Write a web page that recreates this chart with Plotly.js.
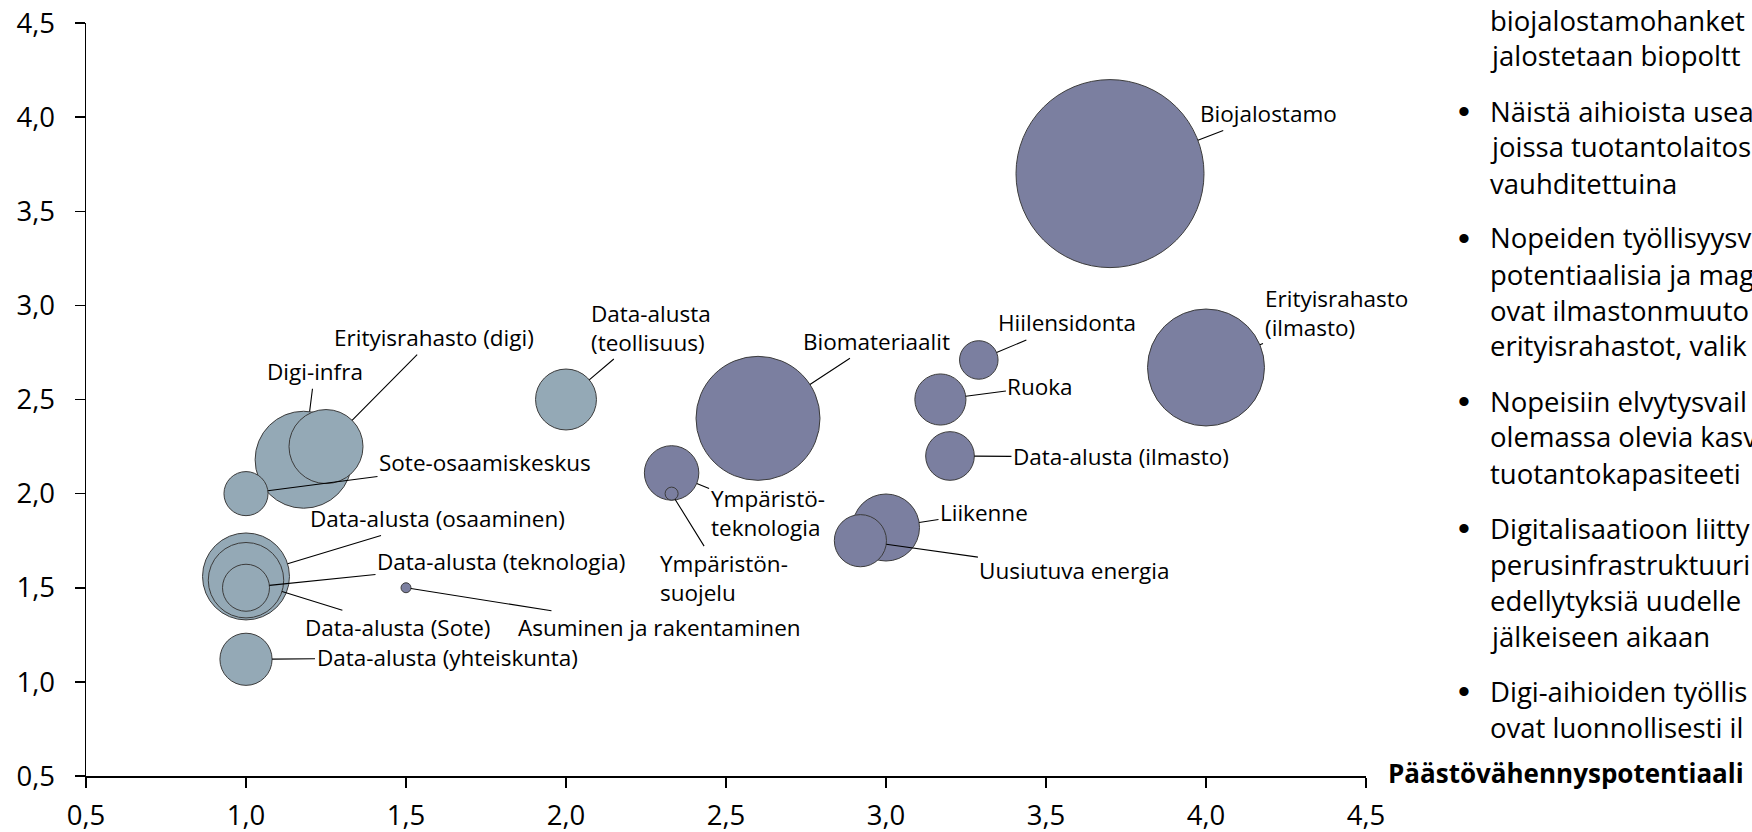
<!DOCTYPE html>
<html>
<head>
<meta charset="utf-8">
<script src="https://cdn.plot.ly/plotly-3.0.1.min.js"></script>
<style>
html,body{margin:0;padding:0;background:#fff;}
#chart{width:1752px;height:832px;}
</style>
</head>
<body>
<div id="chart"></div>
<script>
// ---------- DATA ----------
// Light (digi) bubbles
const digiNames = ['Digi-infra', 'Data-alusta (osaaminen)', 'Data-alusta (Sote)', 'Erityisrahasto (digi)',
  'Data-alusta (teollisuus)', 'Data-alusta (yhteiskunta)', 'Data-alusta (teknologia)', 'Sote-osaamiskeskus'];
const digiX = [1.18, 1.00, 1.00, 1.25, 2.00, 1.00, 1.00, 1.00];
const digiY = [2.18, 1.56, 1.54, 2.25, 2.50, 1.12, 1.50, 2.00];
const digiSize = [26.6, 21.4, 16.1, 15.5, 10.5, 7.7, 6.25, 5.5];

// Dark (ilmasto) bubbles
const climNames = ['Biojalostamo', 'Biomateriaalit', 'Erityisrahasto (ilmasto)', 'Liikenne', 'Ympäristöteknologia',
  'Uusiutuva energia', 'Ruoka', 'Data-alusta (ilmasto)', 'Hiilensidonta', 'Ympäristönsuojelu', 'Asuminen ja rakentaminen'];
const climX = [3.70, 2.60, 4.00, 3.00, 2.33, 2.92, 3.17, 3.20, 3.29, 2.33, 1.50];
const climY = [3.70, 2.40, 2.67, 1.82, 2.11, 1.75, 2.50, 2.20, 2.71, 2.00, 1.50];
const climSize = [100, 43.5, 38.7, 12.7, 8.4, 7.7, 7.4, 6.7, 4.2, 0.48, 0.28];

const tickVals = [0.5, 1.0, 1.5, 2.0, 2.5, 3.0, 3.5, 4.0, 4.5];
const xAxisTitle = 'Päästövähennyspotentiaali';

// label texts shown on chart (line breaks as in the original)
const labelText = {
  'Erityisrahasto (ilmasto)': 'Erityisrahasto<br>(ilmasto)',
  'Data-alusta (teollisuus)': 'Data-alusta<br>(teollisuus)',
  'Ympäristöteknologia': 'Ympäristö-<br>teknologia',
  'Ympäristönsuojelu': 'Ympäristön-<br>suojelu'
};

// right-hand commentary (cut at the slide edge)
const notes = [
  {bullet: false, lines: ['biojalostamohanket', 'jalostetaan biopoltt']},
  {bullet: true, lines: ['Näistä aihioista usea', 'joissa tuotantolaitos', 'vauhditettuina']},
  {bullet: true, lines: ['Nopeiden työllisyysv', 'potentiaalisia ja mag', 'ovat ilmastonmuuto', 'erityisrahastot, valik']},
  {bullet: true, lines: ['Nopeisiin elvytysvail', 'olemassa olevia kasv', 'tuotantokapasiteeti']},
  {bullet: true, lines: ['Digitalisaatioon liitty', 'perusinfrastruktuuri', 'edellytyksiä uudelle', 'jälkeiseen aikaan']},
  {bullet: true, lines: ['Digi-aihioiden työllis', 'ovat luonnollisesti il']}
];

// ---------- LAYOUT (pixels) ----------
const W = 1752, H = 832;
const L = 86, Rpx = 1366, T = 23, Bpx = 776;
const maxD = 188;
const FONT = '"Open Sans", "Noto Sans", sans-serif';
const LIGHT = '#94a9b6', DARK = '#7b7fa0', EDGE = '#3c3c3c';

// label text offsets (px) relative to bubble centre
const labelOffset = {
  'Biojalostamo': [158, -60],
  'Biomateriaalit': [118, -77],
  'Hiilensidonta': [88, -37],
  'Ruoka': [100, -13],
  'Erityisrahasto (ilmasto)': [130, -55],
  'Data-alusta (ilmasto)': [171, 1],
  'Liikenne': [98, -15],
  'Uusiutuva energia': [214, 30],
  'Ympäristöteknologia': [96, 40],
  'Ympäristönsuojelu': [52, 84],
  'Asuminen ja rakentaminen': [253, 40],
  'Data-alusta (teollisuus)': [85, -72],
  'Erityisrahasto (digi)': [108, -109],
  'Digi-infra': [11, -88],
  'Sote-osaamiskeskus': [239, -31],
  'Data-alusta (osaaminen)': [191, -58],
  'Data-alusta (teknologia)': [255, -26],
  'Data-alusta (Sote)': [151, 47],
  'Data-alusta (yhteiskunta)': [201, -1.5]
};

const allSizes = digiSize.concat(climSize);
const maxSize = Math.max.apply(null, allSizes);
const sizeref = 2 * maxSize / (maxD * maxD);
function radius(v) { return 0.5 * maxD * Math.sqrt(v / maxSize); }

const plotW = Rpx - L, plotH = Bpx - T;
function px2paperX(px) { return (px - L) / plotW; }
function px2paperY(py) { return (Bpx - py) / plotH; }

function bubbleTrace(names, xs, ys, sizes, color) {
  return {
    type: 'scatter', mode: 'markers', x: xs, y: ys, text: names,
    hoverinfo: 'text', showlegend: false,
    marker: {size: sizes, sizemode: 'area', sizeref: sizeref, color: color,
      opacity: 1, line: {color: EDGE, width: 1}}
  };
}

const annotations = [];
function addLabels(names, xs, ys, sizes) {
  names.forEach(function (n, i) {
    const off = labelOffset[n];
    annotations.push({
      x: xs[i], y: ys[i], xref: 'x', yref: 'y',
      text: labelText[n] || n, showarrow: true, arrowhead: 0, arrowwidth: 1.1, arrowcolor: '#000',
      ax: off[0], ay: off[1], standoff: radius(sizes[i]), align: 'left',
      font: {family: FONT, size: 22.5, color: '#000'}
    });
  });
}
addLabels(digiNames, digiX, digiY, digiSize);
addLabels(climNames, climX, climY, climSize);

// commentary lines (centre y of each line, px)
const firstCentre = 20, pitch = 36.0, paraGap = 19, noteSize = 27.5;
let cy = firstCentre;
notes.forEach(function (p, pi) {
  if (pi > 0) cy += paraGap;
  p.lines.forEach(function (ln, li) {
    if (li === 0 && p.bullet) {
      annotations.push({xref: 'paper', yref: 'paper', x: px2paperX(1464), y: px2paperY(cy),
        xanchor: 'center', yanchor: 'middle', showarrow: false, text: '•',
        font: {family: '"Liberation Sans", Arial, sans-serif', size: 34, color: '#000'}});
    }
    annotations.push({xref: 'paper', yref: 'paper', x: px2paperX(1488), y: px2paperY(cy),
      xanchor: 'left', yanchor: 'middle', showarrow: false, text: ln,
      font: {family: FONT, size: noteSize, color: '#000'}});
    cy += pitch;
  });
});

annotations.push({xref: 'paper', yref: 'paper', x: px2paperX(1386), y: px2paperY(773),
  xanchor: 'left', yanchor: 'middle', showarrow: false, text: '<b>' + xAxisTitle + '</b>',
  font: {family: FONT, size: 26, color: '#000'}});

const axisCommon = {
  range: [0.5, 4.5], tickvals: tickVals, tickformat: '.1f', showgrid: false, zeroline: false,
  showline: true, linecolor: '#000', linewidth: 1.5, ticks: 'outside', ticklen: 10, tickwidth: 1.5,
  tickcolor: '#000', tickfont: {family: FONT, size: 27.5, color: '#000'}, fixedrange: true
};

const layout = {
  width: W, height: H, paper_bgcolor: '#fff', plot_bgcolor: '#fff',
  separators: ', ',
  margin: {l: L, r: W - Rpx, t: T, b: H - Bpx, pad: 0},
  xaxis: Object.assign({}, axisCommon, {ticklabelstandoff: 4}),
  yaxis: Object.assign({}, axisCommon, {ticklabelstandoff: 14}),
  annotations: annotations,
  showlegend: false
};

Plotly.newPlot('chart', [
  bubbleTrace(digiNames, digiX, digiY, digiSize, LIGHT),
  bubbleTrace(climNames, climX, climY, climSize, DARK)
], layout, {displayModeBar: false, staticPlot: true});
</script>
</body>
</html>
